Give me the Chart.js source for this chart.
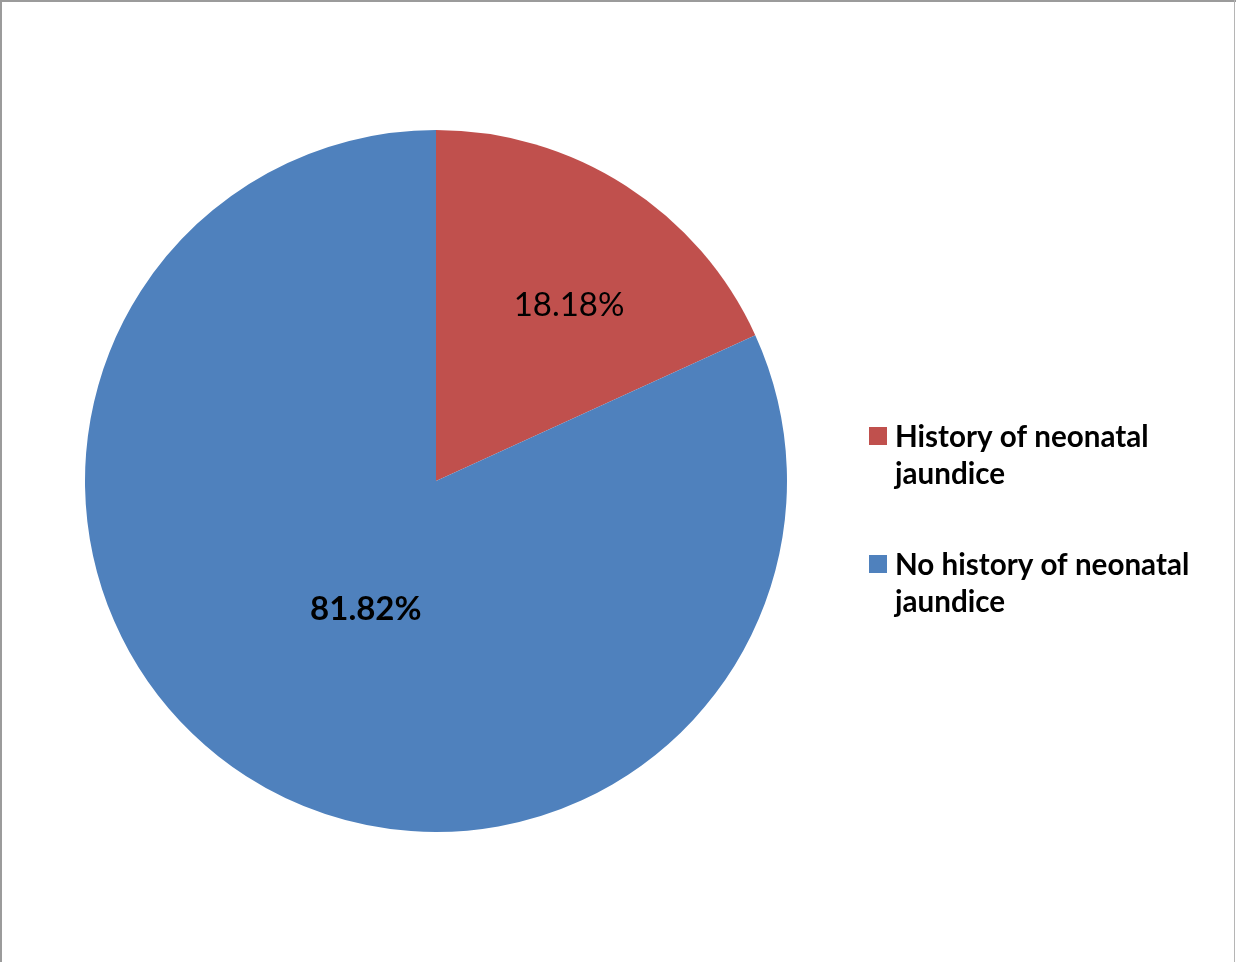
<!DOCTYPE html>
<html>
<head>
<meta charset="utf-8">
<script src="https://cdn.jsdelivr.net/npm/chart.js@4.4.1/dist/chart.umd.min.js"></script>
<style>
  html, body { margin: 0; padding: 0; background: #fff; }
  #wrap { width: 1236px; height: 962px; position: relative; }
</style>
</head>
<body>
<div id="wrap"><canvas id="pie" width="1236" height="962"></canvas></div>
<script>
// Share of respondents by neonatal jaundice history
const categories = [
  ['History of neonatal', 'jaundice'],
  ['No history of neonatal', 'jaundice']
];
const percentValues = [18.18, 81.82];
const valueLabels = ['18.18%', '81.82%'];
const sliceColors = ['#C0504D', '#4F81BD'];

const FONT = 'Lato, "Open Sans", "DejaVu Sans", sans-serif';

// White page with a thin grey frame on the left, top and right
const framePlugin = {
  id: 'frame',
  beforeDraw(chart) {
    const { ctx, width, height } = chart;
    ctx.save();
    ctx.fillStyle = '#ffffff';
    ctx.fillRect(0, 0, width, height);
    ctx.fillStyle = '#9b9b9b';
    ctx.fillRect(0, 0, 2, height);
    ctx.fillRect(0, 0, width, 2);
    ctx.fillStyle = '#b5b5b5';
    ctx.fillRect(width - 2, 0, 1, height);
    ctx.restore();
  }
};

// Percentage text inside each slice
const sliceLabelPlugin = {
  id: 'sliceLabels',
  afterDatasetsDraw(chart, args, opts) {
    const { ctx } = chart;
    const meta = chart.getDatasetMeta(0);
    ctx.save();
    ctx.textAlign = 'center';
    ctx.textBaseline = 'middle';
    ctx.fillStyle = '#000000';
    meta.data.forEach((arc, i) => {
      const p = opts.placement[i];
      const mid = (arc.startAngle + arc.endAngle) / 2 + p.angleShift * Math.PI / 180;
      const r = arc.outerRadius * p.radius;
      const x = arc.x + Math.cos(mid) * r;
      const y = arc.y + Math.sin(mid) * r;
      ctx.font = (p.bold ? 'bold ' : '') + opts.size + 'px ' + FONT;
      ctx.fillText(valueLabels[i], x, y);
    });
    ctx.restore();
  }
};

// Legend on the right with wrapped, bold entries
const sideLegendPlugin = {
  id: 'sideLegend',
  afterDraw(chart, args, opts) {
    const { ctx } = chart;
    const ds = chart.data.datasets[0];
    ctx.save();
    ctx.font = 'bold ' + opts.size + 'px ' + FONT;
    ctx.textBaseline = 'alphabetic';
    ctx.textAlign = 'left';
    chart.data.labels.forEach((lines, i) => {
      const top = opts.top + i * opts.itemGap;
      ctx.fillStyle = ds.backgroundColor[i];
      ctx.fillRect(opts.boxX, top, opts.box, opts.box);
      ctx.fillStyle = '#000000';
      lines.forEach((line, j) => {
        ctx.fillText(line, opts.textX, top + opts.firstBaseline + j * opts.lineHeight);
      });
    });
    ctx.restore();
  }
};

new Chart(document.getElementById('pie'), {
  type: 'pie',
  data: {
    labels: categories,
    datasets: [{
      data: percentValues,
      backgroundColor: sliceColors,
      borderWidth: 0
    }]
  },
  options: {
    responsive: false,
    animation: false,
    rotation: 0,
    layout: { padding: { left: 85, right: 449, top: 130, bottom: 130 } },
    plugins: {
      legend: { display: false },
      tooltip: { enabled: false },
      sliceLabels: {
        size: 33,
        placement: [
          { radius: 0.628, angleShift: 4.4, bold: false },
          { radius: 0.416, angleShift: -4.0, bold: true }
        ]
      },
      sideLegend: {
        size: 29.6,
        boxX: 869,
        box: 18,
        textX: 895,
        top: 427,
        itemGap: 128,
        firstBaseline: 20,
        lineHeight: 37
      }
    }
  },
  plugins: [framePlugin, sliceLabelPlugin, sideLegendPlugin]
});
</script>
</body>
</html>
